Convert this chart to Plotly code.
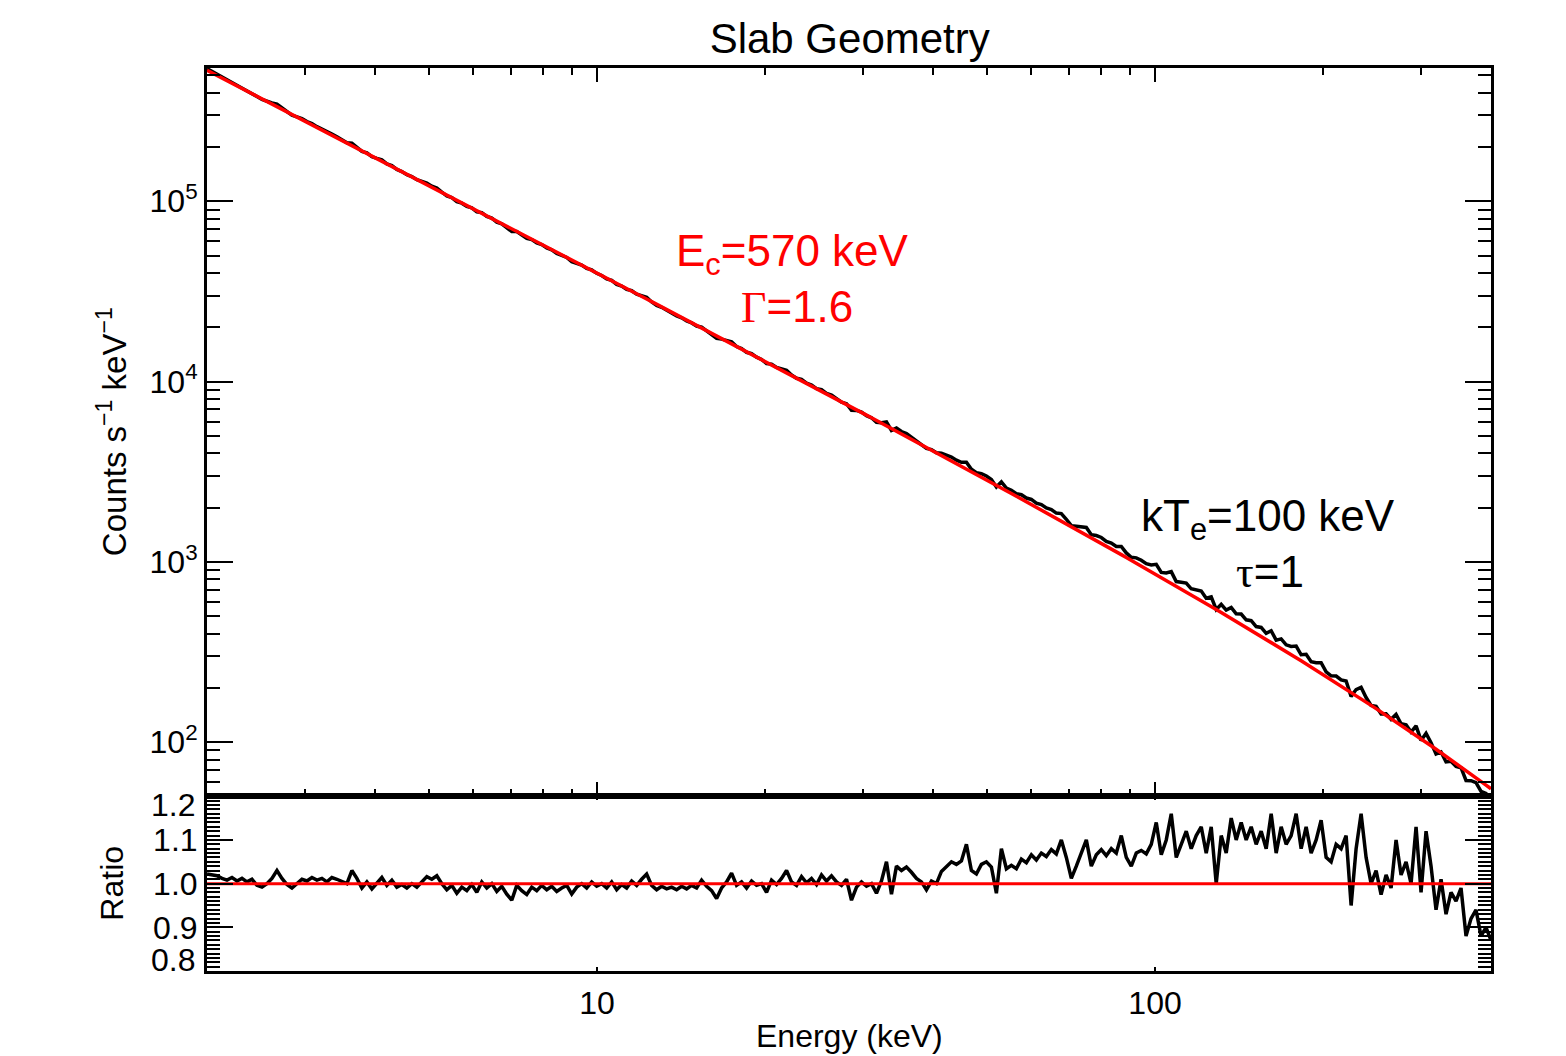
import numpy as np
import plotly.graph_objects as go

# Cutoff power-law model: N(E) = K * E^-Gamma * exp(-E / Ec)
GAMMA = 1.6
E_CUT = 570.0          # keV
NORM = 1.62e6          # counts s^-1 keV^-1 at 1 keV

E_MIN, E_MAX = 2.0, 400.0

# Data / model ratio per channel, low to high energy
ratio = [
    1.022, 1.020, 1.018, 1.012, 1.008, 1.014, 1.006, 1.012, 1.004, 1.010,
    0.996, 0.992, 1.000, 1.012, 1.030, 1.012, 0.998, 0.990, 1.000, 1.010,
    1.006, 1.014, 1.008, 1.012, 1.004, 1.014, 1.010, 1.006, 1.000, 1.030,
    1.012, 0.990, 1.004, 0.988, 1.000, 1.014, 0.996, 1.008, 0.992, 0.998,
    0.990, 1.000, 0.992, 1.004, 1.016, 1.010, 1.018, 1.000, 0.986, 0.996,
    0.978, 0.992, 0.984, 0.998, 0.980, 1.004, 0.990, 1.000, 0.982, 0.994,
    0.976, 0.962, 0.996, 0.984, 0.975, 0.992, 0.984, 0.996, 0.986, 0.994,
    0.982, 0.990, 0.996, 0.976, 0.992, 1.000, 0.990, 1.004, 0.994, 1.000,
    0.990, 1.004, 0.986, 0.998, 0.990, 1.006, 0.996, 1.010, 1.022, 0.996,
    0.986, 0.994, 0.988, 0.992, 0.986, 0.994, 0.988, 0.996, 0.990, 1.008,
    0.994, 0.984, 0.966, 0.990, 1.004, 1.024, 0.996, 1.004, 0.990, 1.006,
    0.996, 1.000, 0.980, 1.008, 0.998, 1.012, 1.030, 1.004, 0.996, 1.016,
    1.002, 1.012, 0.998, 1.020, 1.006, 1.018, 1.004, 0.996, 1.010, 0.962,
    0.992, 1.004, 0.994, 1.000, 0.978, 1.006, 1.050, 0.976, 1.040, 1.030,
    1.038, 1.026, 1.012, 1.004, 0.986, 1.006, 1.000, 1.028, 1.040, 1.050,
    1.044, 1.052, 1.090, 1.030, 1.022, 1.044, 1.050, 1.038, 0.978, 1.080,
    1.034, 1.042, 1.034, 1.056, 1.048, 1.066, 1.054, 1.070, 1.062, 1.078,
    1.068, 1.100, 1.060, 1.012, 1.040, 1.070, 1.100, 1.040, 1.066, 1.078,
    1.064, 1.080, 1.070, 1.110, 1.060, 1.040, 1.070, 1.076, 1.068, 1.090,
    1.140, 1.066, 1.100, 1.160, 1.060, 1.090, 1.120, 1.080, 1.110, 1.130,
    1.070, 1.130, 1.000, 1.110, 1.070, 1.150, 1.100, 1.140, 1.100, 1.130,
    1.090, 1.120, 1.080, 1.160, 1.070, 1.130, 1.090, 1.110, 1.160, 1.080,
    1.130, 1.070, 1.100, 1.145, 1.060, 1.050, 1.090, 1.080, 1.110, 0.950,
    1.080, 1.160, 1.060, 1.000, 1.030, 0.975, 1.020, 0.990, 1.100, 1.020,
    1.050, 1.000, 1.130, 0.980, 1.120, 1.040, 0.940, 1.010, 0.930, 0.980,
    0.960, 0.990, 0.880, 0.920, 0.940, 0.880, 0.900, 0.870,
]

# Axis ticks
x_major = [10, 100]
x_major_text = ["10", "100"]
x_minor = [3, 4, 5, 6, 7, 8, 9, 20, 30, 40, 50, 60, 70, 80, 90, 200, 300, 400]
y_major = [1e2, 1e3, 1e4, 1e5]
y_major_text = ["10<sup>2</sup>", "10<sup>3</sup>", "10<sup>4</sup>", "10<sup>5</sup>"]
y_minor = [m * 10 ** d for d in range(1, 6) for m in range(2, 10)]
r_major = [0.9, 1.0, 1.1]
r_major_text = ["0.9", "1.0", "1.1"]

energy = np.geomspace(E_MIN, E_MAX, len(ratio))
model = NORM * energy ** (-GAMMA) * np.exp(-energy / E_CUT)
counts = model * np.asarray(ratio)

FONT = "Liberation Sans, Arial, Helvetica, sans-serif"
SERIF = "Liberation Serif"
BLACK = "#000000"
RED = "#ff0000"

fig = go.Figure()

# Upper panel: spectrum and model
fig.add_trace(go.Scatter(x=energy, y=counts, mode="lines",
                         line=dict(color=BLACK, width=3.5),
                         xaxis="x2", yaxis="y2", showlegend=False))
fig.add_trace(go.Scatter(x=energy, y=model, mode="lines",
                         line=dict(color=RED, width=3.5),
                         xaxis="x2", yaxis="y2", showlegend=False))

# Lower panel: ratio
fig.add_trace(go.Scatter(x=energy, y=ratio, mode="lines",
                         line=dict(color=BLACK, width=3.5),
                         xaxis="x", yaxis="y", showlegend=False))
fig.add_trace(go.Scatter(x=[E_MIN, E_MAX], y=[1.0, 1.0], mode="lines",
                         line=dict(color=RED, width=3),
                         xaxis="x", yaxis="y", showlegend=False))

SPLIT = 0.1935
xrange_log = [np.log10(E_MIN), np.log10(E_MAX)]

common_axis = dict(showline=True, linecolor=BLACK, linewidth=3,
                   mirror="ticks", ticks="inside", tickcolor=BLACK,
                   showgrid=False, zeroline=False,
                   tickfont=dict(family=FONT, size=32, color=BLACK))

fig.update_layout(
    width=1566, height=1056,
    margin=dict(l=207, r=75, t=68, b=85),
    paper_bgcolor="white", plot_bgcolor="white",
    font=dict(family=FONT, color=BLACK),
    title=dict(text="Slab Geometry", x=0.5426, xanchor="center",
               y=1 - 38 / 1056, yanchor="middle",
               font=dict(family=FONT, size=42, color=BLACK)),
    xaxis=dict(common_axis, type="log", range=xrange_log, anchor="y",
               tickmode="array", tickvals=x_major, ticktext=x_major_text,
               ticklen=4, tickwidth=2, ticklabelstandoff=2),
    yaxis=dict(common_axis, domain=[0, SPLIT], range=[0.8, 1.2],
               anchor="x", tickmode="array", tickvals=r_major,
               ticktext=r_major_text, ticklen=26, tickwidth=2,
               minor=dict(ticks="inside", dtick=0.01, tick0=0.8, ticklen=13,
                          tickwidth=2, tickcolor=BLACK, showgrid=False)),
    xaxis2=dict(common_axis, type="log", range=xrange_log, anchor="y2",
                matches="x", showticklabels=False,
                tickmode="array", tickvals=x_major, ticklen=14, tickwidth=2,
                minor=dict(ticks="inside", tickmode="array", tickvals=x_minor,
                           ticklen=7, tickwidth=2, tickcolor=BLACK,
                           showgrid=False)),
    yaxis2=dict(common_axis, type="log", domain=[SPLIT, 1],
                range=[1.70, 5.739], anchor="x2",
                tickmode="array", tickvals=y_major, ticktext=y_major_text,
                ticklen=26, tickwidth=2,
                minor=dict(ticks="inside", tickmode="array", tickvals=y_minor,
                           ticklen=13, tickwidth=2, tickcolor=BLACK,
                           showgrid=False)),
)

annotations = [
    # axis titles
    dict(text="Counts s<sup>−1</sup> keV<sup>−1</sup>", xref="paper", yref="paper",
         x=(112 - 207) / 1284, y=SPLIT + (1 - SPLIT) * 0.5, textangle=-90,
         showarrow=False, font=dict(family=FONT, size=33, color=BLACK),
         xanchor="center", yanchor="middle"),
    dict(text="Ratio", xref="paper", yref="paper",
         x=(112 - 207) / 1284, y=SPLIT * 0.5, textangle=-90,
         showarrow=False, font=dict(family=FONT, size=32, color=BLACK),
         xanchor="center", yanchor="middle"),
    dict(text="Energy (keV)", xref="paper", yref="paper",
         x=(849 - 207) / 1284, y=-(1036 - 971) / 903,
         showarrow=False, font=dict(family=FONT, size=32, color=BLACK),
         xanchor="center", yanchor="middle"),
    # end labels of the ratio axis, set inside the panel edges
    dict(text="1.2", xref="paper", yref="y", x=-0.008, y=1.18,
         showarrow=False, xanchor="right", yanchor="middle",
         font=dict(family=FONT, size=32, color=BLACK)),
    dict(text="0.8", xref="paper", yref="y", x=-0.008, y=0.826,
         showarrow=False, xanchor="right", yanchor="middle",
         font=dict(family=FONT, size=32, color=BLACK)),
    # model parameters
    dict(text="E<sub>c</sub>=570 keV", xref="x2", yref="y2", x=1.351, y=4.706,
         showarrow=False, font=dict(family=FONT, size=44, color=RED),
         xanchor="center", yanchor="middle"),
    dict(text=f"<span style='font-family:{SERIF}'>Γ</span>=1.6", xref="x2", yref="y2",
         x=1.358, y=4.411, showarrow=False,
         font=dict(family=FONT, size=44, color=RED),
         xanchor="center", yanchor="middle"),
    dict(text="kT<sub>e</sub>=100 keV", xref="x2", yref="y2", x=2.2025, y=3.239,
         showarrow=False, font=dict(family=FONT, size=44, color=BLACK),
         xanchor="center", yanchor="middle"),
    dict(text=f"<span style='font-family:{SERIF}'>τ</span>=1", xref="x2", yref="y2",
         x=2.206, y=2.944, showarrow=False,
         font=dict(family=FONT, size=44, color=BLACK),
         xanchor="center", yanchor="middle"),
]
fig.update_layout(annotations=annotations)

fig.write_html("out.html")
